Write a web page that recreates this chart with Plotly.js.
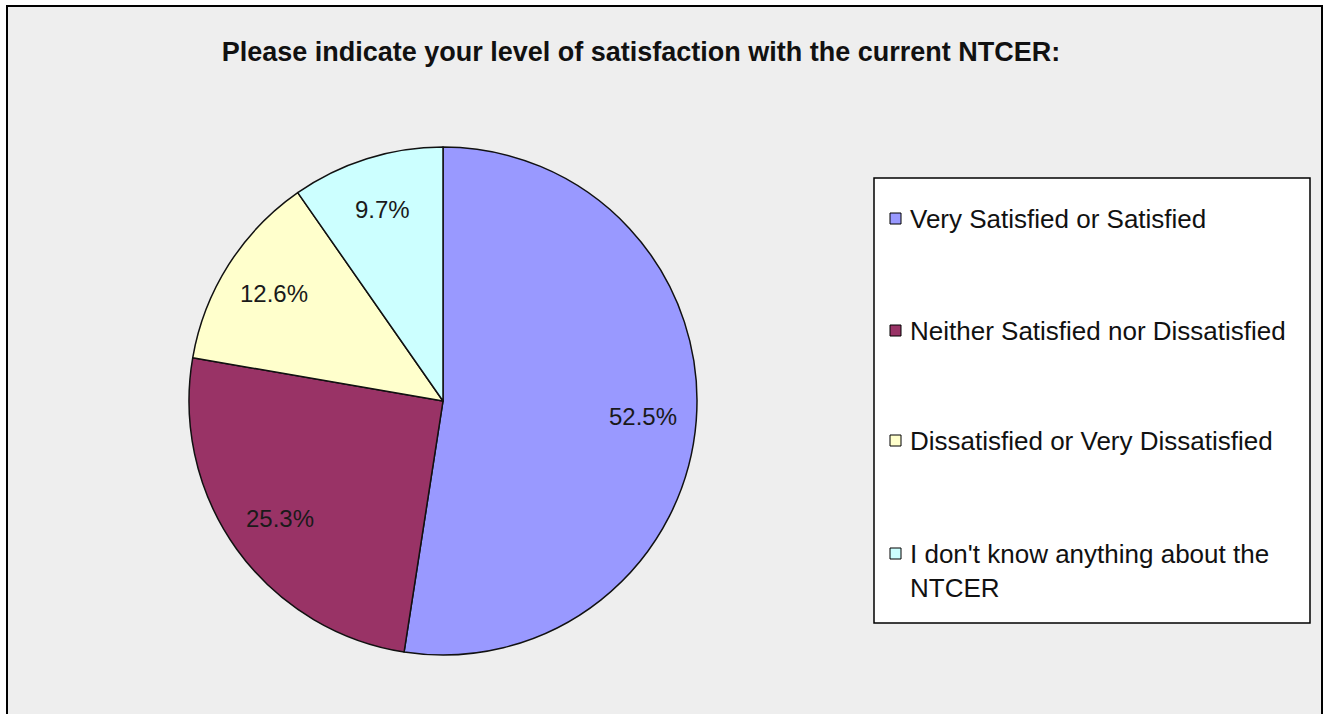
<!DOCTYPE html>
<html>
<head>
<meta charset="utf-8">
<script src="https://cdn.plot.ly/plotly-3.0.1.min.js"></script>
<style>html,body{margin:0;padding:0;background:#fff;}#chart{width:1328px;height:714px;}</style>
</head>
<body>
<div id="chart"></div>
<script>
const categories = [
  "Very Satisfied or Satisfied",
  "Neither Satisfied nor Dissatisfied",
  "Dissatisfied or Very Dissatisfied",
  "I don't know anything about the<br>NTCER"
];
const values = [52.5, 25.3, 12.6, 9.7];
const sliceColors = ["#9999FF", "#993366", "#FFFFCC", "#CCFFFF"];
const chartTitle = "Please indicate your level of satisfaction with the current NTCER:";

const W = 1328, H = 714;
const px = x => x / W;
const py = y => 1 - y / H;

// Pie geometry (pixels)
const cx = 443, cy = 401, R = 254;
const labelFrac = 0.79;

const trace = {
  type: "pie",
  labels: categories,
  values: values,
  sort: false,
  direction: "clockwise",
  rotation: 0,
  marker: { colors: sliceColors, line: { color: "#111111", width: 1.5 } },
  textinfo: "none",
  showlegend: false,
  hoverinfo: "label+value",
  domain: { x: [px(cx - R), px(cx + R)], y: [py(cy + R), py(cy - R)] }
};

const shapes = [
  { type: "rect", xref: "paper", yref: "paper", x0: px(7), x1: px(1322), y0: -0.05, y1: py(6),
    fillcolor: "#EEEEEE", line: { color: "#000", width: 2 }, layer: "below" },
  { type: "rect", xref: "paper", yref: "paper", x0: px(874), x1: px(1310), y0: py(623), y1: py(178),
    fillcolor: "#FFFFFF", line: { color: "#000", width: 1.5 }, layer: "below" }
];
const annotations = [];

// Percentage labels derived from the values (clockwise from 12 o'clock)
const total = values.reduce((a, b) => a + b, 0);
let cum = 0;
values.forEach((v) => {
  const mid = (cum + v / 2) / total * 2 * Math.PI;
  cum += v;
  const lx = cx + Math.sin(mid) * R * labelFrac;
  const ly = cy - Math.cos(mid) * R * labelFrac;
  annotations.push({ xref: "paper", yref: "paper", x: px(lx), y: py(ly),
    xanchor: "center", yanchor: "middle", showarrow: false, text: v.toFixed(1) + "%",
    font: { family: "Liberation Sans, Arial, sans-serif", size: 24, color: "#1a1a1a" } });
});

const itemY = [218, 330, 440, 553];
categories.forEach((c, i) => {
  const yc = itemY[i];
  shapes.push({ type: "rect", xref: "paper", yref: "paper",
    x0: px(890), x1: px(901), y0: py(yc + 6), y1: py(yc - 5),
    fillcolor: sliceColors[i], line: { color: "#000", width: 1 } });
  annotations.push({ xref: "paper", yref: "paper", x: px(908), y: py(yc - 16),
    xanchor: "left", yanchor: "top", align: "left", showarrow: false, text: c,
    font: { family: "Liberation Sans, Arial, sans-serif", size: 26, color: "#111" } });
});

const layout = {
  width: W, height: H,
  margin: { l: 0, r: 0, t: 0, b: 0 },
  paper_bgcolor: "#FFFFFF",
  title: { text: chartTitle, x: px(641), xanchor: "center", xref: "paper",
    y: py(52), yanchor: "middle", yref: "paper",
    font: { family: "Liberation Sans, Arial, sans-serif", size: 27, color: "#111", weight: "bold" } },
  shapes: shapes,
  annotations: annotations
};

Plotly.newPlot("chart", [trace], layout, { displayModeBar: false, staticPlot: true });
</script>
</body>
</html>
